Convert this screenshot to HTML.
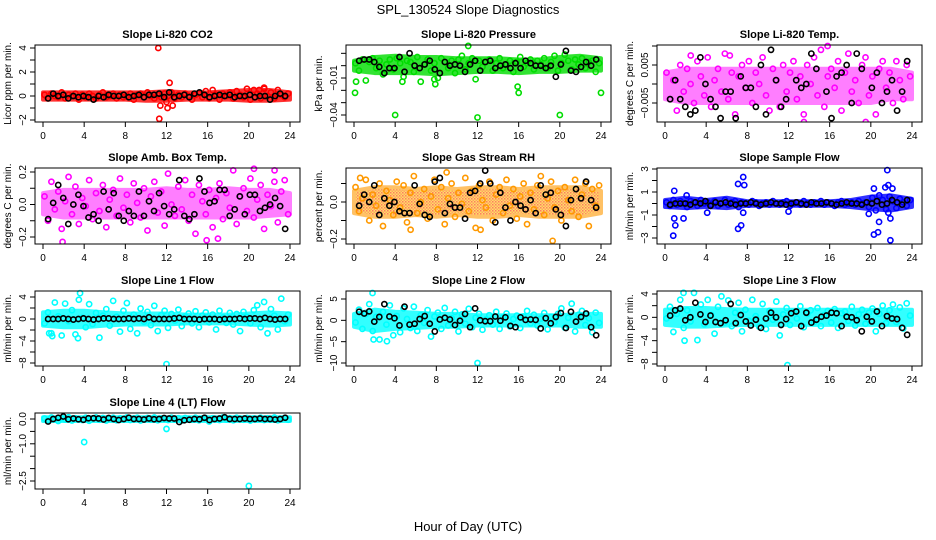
<!DOCTYPE html>
<html><head><meta charset="utf-8"><style>
html,body{margin:0;padding:0;background:#fff;}
svg{display:block;font-family:"Liberation Sans",sans-serif;}
</style></head><body>
<svg id="chart" width="936" height="540" viewBox="0 0 936 540" xmlns="http://www.w3.org/2000/svg">
<defs>
<pattern id="rhpat" width="3" height="3" patternUnits="userSpaceOnUse"><rect width="3" height="3" fill="#ffcc00"/><rect width="1.5" height="1.5" fill="#ff2000"/><rect x="1.5" y="1.5" width="1.5" height="1.5" fill="#ff6000"/></pattern>
</defs>
<text x="468" y="14" text-anchor="middle" font-size="13">SPL_130524  Slope Diagnostics</text>
<text x="468" y="531" text-anchor="middle" font-size="13">Hour of Day (UTC)</text>
</svg>
<script>
// ---- data ----
const co2Colored=[0.1,-0.2,0.2,0,-0.1,0.3,-0.2,0.1,0,0.2,-0.3,0.1,-0.1,0.2,0,-0.2,0.1,0.3,-0.1,0,0.2,-0.2,0.1,-0.1,0,0.2,-0.3,0.1,0.2,-0.1,0.3,0,-0.2,0.1,-0.1,0.2,0,0.3,-0.2,0.1,-0.1,0.2,0,-0.3,0.1,0.2,-0.1,0.4,-0.2,0.5,0.1,-0.3,0.2,0,0.3,-0.2,0.4,0.1,-0.1,0.6,-0.3,0.5,0.2,-0.2,0.7,0,0.3,-0.2,0.5,0.1,-0.1,0.2];
const co2BandLo=[-0.3,-0.3,-0.3,-0.3,-0.3,-0.4,-0.4,-0.3,-0.3,-0.3,-0.4,-0.4,-0.3];
const co2BandHi=[0.3,0.3,0.3,0.3,0.3,0.3,0.4,0.3,0.3,0.4,0.5,0.5,0.3];
const co2Means=[-0.2,0.2,0,0.1,-0.2,0,-0.1,0,-0.1,-0.3,0,-0.1,0.1,0,0,0.1,-0.1,0,0.1,-0.1,0.1,0.1,0.2,-0.1,0.3,-0.1,0,0.1,-0.1,0.2,0.3,0.1,-0.1,0,0.1,0,0.1,-0.1,0,0,0.1,-0.1,0,0,-0.3,0,0.2,0];
const co2OutHours=[11.2,11.3,12.3,11.4,12.6,12.1,12.0,21.5,21.0];
const co2OutVals=[4,-1.9,1.1,-0.8,-0.8,-1.0,-0.5,0.6,0.5];

const presColored=[0.002,-0.004,0.005,-0.012,0.003,0.006,-0.002,0.004,-0.007,0.001,0.005,-0.003,0.006,0.002,-0.009,0.004,0.003,-0.005,0.007,-0.013,0.001,0.005,-0.004,0.002,-0.01,0.006,0.003,-0.002,0.004,-0.006,0.005,0.008,-0.003,0.002,0.006,-0.011,0.004,-0.001,0.003,0.005,-0.004,0.002,0.006,-0.002,0.001,0.004,-0.005,0.003,0.007,-0.001,0.002,0.005,-0.003,0.004,0.001,0.006,-0.002,0.003,0.008,-0.004,0.002,0.009,0.004,-0.003,0.005,0.001,0.006,-0.002,0.003,0.004,-0.005,0.002];
const presBandLo=[-0.004,-0.006,-0.006,-0.006,-0.007,-0.006,-0.005,-0.005,-0.006,-0.005,-0.005,-0.004,-0.004];
const presBandHi=[0.004,0.007,0.008,0.007,0.007,0.006,0.006,0.006,0.005,0.005,0.007,0.008,0.006];
const presMeans=[0.004,0.005,0.005,0.003,-0.001,-0.006,-0.002,-0.002,0.007,-0.005,0.010,0.0,-0.002,0.001,0.004,-0.003,-0.006,0.003,0.000,0.001,0.000,-0.005,0.001,0.004,-0.004,0.003,0.004,-0.002,0.000,0.001,-0.002,0.002,-0.002,0.004,0.002,0.000,0.000,-0.002,0.0,-0.009,0.001,0.012,-0.004,-0.005,-0.001,0.003,0.000,0.005];
const presOutHours=[0.1,0.2,4.0,12.0,20.0,16.0,15.9,24.0,11.1,4.7,7.9,7.8];
const presOutVals=[-0.022,-0.013,-0.040,-0.042,-0.040,-0.022,-0.017,-0.022,0.016,-0.013,-0.015,-0.011];

const tempColored=[0.003,-0.004,0.001,-0.007,0.005,-0.002,0.004,0.000,-0.005,0.006,0.002,-0.003,0.007,-0.006,0.001,0.004,-0.002,0.008,-0.004,0.003,-0.008,0.002,0.005,-0.001,0.006,-0.005,0.003,0.000,0.007,-0.003,-0.007,0.004,0.001,-0.006,0.005,-0.002,0.003,0.006,-0.004,0.002,-0.008,0.005,0.000,0.007,-0.003,0.009,-0.006,0.002,0.004,-0.001,0.006,-0.007,0.003,0.008,-0.002,0.001,-0.005,0.005,0.007,-0.003,0.002,-0.008,0.004,0.006,-0.001,0.003,-0.005,0.006,0.001,-0.004,0.005,0.002];
const tempBandLo=[-0.004,-0.005,-0.005,-0.005,-0.005,-0.005,-0.005,-0.005,-0.005,-0.005,-0.005,-0.004,-0.004];
const tempBandHi=[0.003,0.004,0.004,0.004,0.004,0.004,0.004,0.004,0.004,0.004,0.004,0.004,0.003];
const tempMeans=[-0.004,0.001,-0.004,-0.006,-0.008,-0.007,0.007,0.000,-0.004,-0.006,-0.009,-0.002,-0.002,-0.009,0.002,-0.001,-0.001,-0.006,0.005,-0.008,0.009,0.001,-0.006,-0.004,-0.011,0.001,-0.001,0.000,0.008,0.004,-0.014,-0.002,-0.009,0.002,0.003,0.005,-0.005,0.008,0.004,-0.012,-0.001,0.003,-0.005,-0.002,0.001,-0.007,-0.002,0.006];
const tempOutHours=[15.8,19.5,13.5,6.3,2.5];
const tempOutVals=[0.010,-0.010,-0.010,0.0075,0.0075];

const ambColored=[0.05,-0.10,0.14,-0.03,0.08,-0.15,0.02,0.17,-0.06,0.11,-0.12,0.04,-0.01,0.15,-0.09,0.07,-0.04,0.12,-0.14,0.03,0.09,-0.07,0.16,-0.02,0.06,-0.11,0.13,0.01,-0.08,0.10,-0.16,0.05,0.14,-0.05,0.08,-0.13,0.19,0.00,-0.07,0.11,-0.03,0.15,-0.10,0.06,-0.18,0.12,0.02,-0.06,0.09,-0.14,0.04,0.13,-0.09,0.07,-0.02,0.21,-0.12,0.05,0.10,-0.04,0.16,-0.08,0.03,0.12,-0.15,0.06,-0.01,0.14,-0.11,0.08,0.15,-0.06];
const ambBandLo=[-0.06,-0.08,-0.08,-0.08,-0.08,-0.08,-0.08,-0.08,-0.08,-0.08,-0.08,-0.07,-0.06];
const ambBandHi=[0.07,0.09,0.09,0.09,0.09,0.09,0.10,0.09,0.09,0.10,0.09,0.09,0.07];
const ambMeans=[-0.09,0.01,0.12,0.04,-0.12,0.00,0.06,-0.01,-0.08,-0.06,-0.10,0.08,-0.03,0.07,-0.07,-0.10,-0.04,-0.07,0.08,-0.07,0.02,-0.04,0.07,-0.01,-0.06,-0.03,0.15,-0.07,-0.09,-0.06,0.16,0.08,0.01,0.02,0.09,0.09,-0.07,-0.03,0.05,-0.06,0.06,0.06,-0.04,-0.02,0.00,0.04,-0.01,-0.15];
const ambOutHours=[1.9,20.5,15.9,17.0,22.5];
const ambOutVals=[-0.23,0.22,-0.22,-0.21,0.21];

const rhColored=[0.08,-0.05,0.02,0.12,-0.10,0.04,-0.02,0.10,-0.13,0.06,0.01,-0.07,0.11,-0.03,0.09,-0.11,0.05,0.14,-0.06,0.00,0.07,-0.09,0.03,0.12,-0.04,0.08,-0.12,0.02,0.10,-0.08,0.05,-0.01,0.13,-0.05,0.06,-0.14,0.09,0.01,-0.03,0.11,-0.10,0.04,0.08,-0.06,0.12,-0.02,0.07,-0.09,0.03,0.10,-0.12,0.05,-0.04,0.09,0.14,-0.07,0.02,0.11,-0.03,0.06,-0.10,0.08,0.01,-0.05,0.12,-0.08,0.04,0.10,-0.13,0.07,-0.02,0.09];
const rhBandLo=[-0.06,-0.08,-0.08,-0.07,-0.08,-0.07,-0.08,-0.08,-0.07,-0.08,-0.08,-0.08,-0.06];
const rhBandHi=[0.06,0.08,0.08,0.07,0.08,0.07,0.08,0.08,0.07,0.08,0.08,0.08,0.06];
const rhMeans=[-0.02,0.04,0.00,0.09,-0.07,0.02,-0.02,0.00,-0.05,-0.06,-0.06,0.09,-0.01,-0.07,-0.08,0.11,0.13,-0.06,-0.01,-0.03,-0.03,-0.09,0.05,0.06,0.10,0.17,0.10,-0.11,0.05,-0.03,-0.10,0.00,-0.02,-0.04,0.01,-0.06,0.09,0.04,0.05,-0.04,-0.07,-0.13,0.01,0.07,0.02,0.11,0.01,-0.03];
const rhOutHours=[19.3,12.3,5.5,0.6,9.0];
const rhOutVals=[-0.21,-0.15,-0.15,0.13,0.16];

const flowColored=[0.1,-0.2,0.3,-0.1,0.2,0.0,-0.3,0.2,0.1,-0.2,0.3,0.0,0.1,-0.1,0.2,-0.2,0.0,0.3,-0.1,0.1,0.2,-0.3,0.1,0.0,-0.1,0.2,0.1,-0.2,0.0,0.1,-0.1,0.2,0.0,-0.1,0.1,0.2,-0.2,0.0,0.1,-0.1,0.2,0.0,-0.1,0.1,0.0,0.2,-0.1,0.1,0.0,-0.2,0.1,0.2,-0.1,0.0,0.1,-0.1,0.2,0.0,0.1,-0.3,0.5,-0.6,0.7,0.3,-0.5,0.6,0.2,-0.4,0.4,0.1,-0.2,0.3];
const flowBandLo=[-0.3,-0.4,-0.3,-0.4,-0.2,-0.2,-0.2,-0.2,-0.2,-0.3,-0.5,-0.6,-0.3];
const flowBandHi=[0.3,0.5,0.3,0.5,0.2,0.2,0.2,0.2,0.2,0.3,0.6,0.7,0.4];
const flowMeans=[-0.1,0,0,0,-0.1,0.1,0,0.2,-0.2,0.1,0,0.1,0,-0.1,0,0,0.1,0,-0.1,0,0.1,0,0,-0.1,0,0.1,0,-0.1,0.1,0,0,0.1,0,-0.1,0,0.1,0,0,-0.1,0.1,0,0.2,-0.1,0,0.3,0.1,-0.1,0.3];
const flowOutHours=[0.9,0.8,1.0,0.9,1.8,2.1,7.6,7.1,7.7,7.1,7.4,7.6,4.1,12.0,20.3,20.7,20.8,20.3,21.4,21.6,21.9,21.9,21.7,22.1,21.7,19.8];
const flowOutVals=[1.1,-2.8,-1.9,-1.3,-1.3,0.7,2.3,1.7,1.6,-2.2,-1.9,-0.8,-0.8,-0.7,-2.7,-2.5,-1.6,1.3,1.4,2.9,-3.2,-1.3,1.6,1.3,-0.8,-0.9];

const l1Colored=[-0.8,1.2,-2.6,3.0,0.5,-3.0,2.8,-0.4,1.6,-2.8,3.5,0.2,-1.5,2.7,-0.9,1.1,-3.4,0.6,1.8,-1.2,3.3,0.4,-2.3,1.5,2.9,-1.8,0.8,-2.6,1.9,-0.5,1.3,-1.1,2.4,-2.2,0.7,1.5,-1.6,0.9,-0.3,1.7,-1.3,0.5,1.0,-0.8,1.4,-1.5,0.6,1.2,-0.6,0.8,-1.9,1.5,0.3,-0.7,1.1,-1.0,0.9,-2.2,1.3,0.4,-0.8,1.6,2.5,-1.5,3.1,-2.6,1.8,0.6,-1.9,3.7,-0.4,0.8];
const l1BandLo=[-1.2,-1.5,-1.5,-1.2,-1.0,-1.0,-1.0,-0.8,-0.8,-0.8,-1.0,-1.2,-1.0];
const l1BandHi=[1.2,1.5,1.5,1.2,1.0,1.0,1.0,0.8,0.8,0.8,1.0,1.2,1.0];
const l1Means=[0,0,0,0.1,0,-0.1,0,0.1,0,-0.1,0,0.1,0.1,0,0,0,0.1,0,0.1,0,0.3,0,0,0,0,0.1,0.2,0,0,0,-0.1,0,0,0,-0.1,0,0,0,0.1,0,0.1,0.1,0,0.2,0,-0.1,0,0];
const l1OutHours=[3.6,12.0,3.4,0.6,0.9];
const l1OutVals=[4.7,-8.2,-3.5,-2.6,-3.1];

const l2Colored=[-0.5,2.5,-2.0,1.5,3.8,-2.5,0.8,-4.5,2.0,-1.0,3.5,-3.5,1.0,-2.8,2.8,0.3,-1.8,3.2,-2.5,1.2,-0.6,2.4,-3.8,0.9,1.8,-2.0,2.9,-1.2,0.5,2.0,-2.6,1.4,-0.8,2.7,-1.6,0.6,1.5,-2.2,0.2,1.2,-1.0,2.0,-2.0,0.7,1.6,-1.4,0.3,1.1,-1.8,0.9,2.2,-0.7,1.3,-1.2,0.4,1.7,-2.1,0.8,-0.4,1.5,2.8,-1.7,0.6,3.9,-2.6,1.3,2.2,-1.1,0.5,-2.8,1.8,-0.6];
const l2BandLo=[-1.5,-2.5,-2.0,-1.8,-1.5,-1.5,-1.2,-1.2,-1.2,-1.2,-1.2,-1.5,-1.5];
const l2BandHi=[1.5,2.5,2.0,1.8,1.5,1.5,1.2,1.2,1.2,1.2,1.2,1.5,1.5];
const l2Means=[2.0,1.6,2.1,-0.3,0.8,3.8,0.9,0.5,-1.2,3.2,-1.0,-0.8,0.3,1.0,-0.8,-2.6,0.2,0.6,0.2,-1.1,-0.1,1.5,-1.6,2.8,0.0,-0.2,-0.2,0.9,-0.1,0.7,-1.3,-1.6,0.7,0.1,0.2,0.1,-1.9,0.5,-0.7,0.8,1.7,-1.8,2.0,-0.3,0.8,1.6,-1.6,-3.5];
const l2OutHours=[1.8,12.0,3.2,1.9];
const l2OutVals=[6.4,-10.0,-4.9,-4.5];

const l3Colored=[-0.2,1.8,-2.5,0.6,3.0,-1.8,1.2,-0.7,4.2,-3.9,2.2,-1.2,3.0,0.4,-2.8,1.8,3.6,-0.9,2.9,-1.5,0.8,2.5,-2.4,1.3,-0.6,3.0,0.2,-1.6,2.3,-2.0,1.1,-0.4,2.7,-3.1,0.5,1.6,-1.3,0.9,-0.2,1.9,-1.7,0.6,1.2,-0.8,1.6,-1.5,0.4,1.1,-0.9,1.4,-1.8,0.7,1.0,-0.6,1.8,-1.4,0.5,1.3,-1.1,0.8,1.5,-2.4,0.6,2.0,-1.0,1.2,2.2,-0.8,1.7,-1.9,2.4,0.3];
const l3BandLo=[-1.3,-1.6,-1.6,-1.4,-1.3,-1.3,-1.3,-1.3,-1.3,-1.3,-1.3,-1.3,-1.3];
const l3BandHi=[1.3,1.6,1.6,1.4,1.3,1.3,1.3,1.3,1.3,1.3,1.3,1.3,1.3];
const l3Means=[0.3,1.2,1.5,-0.5,0.0,2.5,0.5,-0.8,0.3,-0.8,-1.0,-0.5,2.3,-1.0,0.4,-0.7,-1.4,-0.4,-1.8,-0.2,0.8,0.0,-1.3,-0.3,0.7,1.0,-1.5,0.8,-0.9,-0.4,0.1,0.3,0.8,0.7,-1.5,0.1,0.0,-0.5,-2.4,0.1,-0.7,1.0,-1.5,0.2,-0.2,-0.3,-1.8,-3.0];
const l3OutHours=[1.8,11.9,1.9];
const l3OutVals=[4.2,-8.2,-4.0];

const l4Colored=[0.02,-0.05,0.06,0.0,-0.08,0.04,-0.02,0.07,-0.06,0.03,0.0,-0.04,0.05,-0.07,0.02,0.06,-0.03,0.04,-0.06,0.01,0.05,-0.05,0.03,-0.02,0.06,-0.04,0.02,0.05,-0.06,0.0,0.04,-0.03,0.06,-0.05,0.02,0.0,-0.04,0.05,-0.02,0.03,-0.06,0.04,0.01,-0.03,0.05,-0.05,0.02,0.04,-0.1,0.03,0.0,-0.04,0.06,-0.02,0.03,-0.05,0.05,0.01,-0.03,0.04,-0.06,0.02,0.0,0.05,-0.04,0.03,-0.02,0.06,-0.05,0.01,0.04,-0.03];
const l4BandLo=[-0.08,-0.08,-0.08,-0.08,-0.08,-0.08,-0.08,-0.08,-0.08,-0.08,-0.08,-0.08,-0.08];
const l4BandHi=[0.07,0.07,0.07,0.07,0.07,0.07,0.07,0.07,0.07,0.07,0.07,0.07,0.07];
const l4Means=[-0.1,0.0,0.05,0.1,-0.01,0.02,-0.01,-0.03,0.03,0.03,0.02,-0.02,0.04,0.00,-0.04,0.0,0.05,0.0,0.0,-0.02,0.02,-0.01,0.0,0.04,0.02,0.02,-0.12,-0.05,-0.03,0.0,-0.01,0.05,-0.04,0.0,0.02,0.07,0.0,0.0,0.0,0.02,0.0,0.0,0.02,0.0,0.0,-0.02,0.0,0.05];
const l4OutHours=[4.0,12.0,20.0];
const l4OutVals=[-0.93,-0.4,-2.7];

const xTickLabels=[0,4,8,12,16,20,24];

// ---- drawing ----
const NS='http://www.w3.org/2000/svg';
const svg=document.getElementById('chart');
function mk(tag,attrs,parent){const e=document.createElementNS(NS,tag);for(const k in attrs)e.setAttribute(k,attrs[k]);(parent||svg).appendChild(e);return e;}

const panels=[
 {name:'co2',title:'Slope Li-820 CO2',ylab:'Licor ppm per min.',col:0,row:0,color:'#ff0000',fill:'#ff0000',op:0.8,v1:4,p1:48,v2:-2,p2:120,ticks:[-2,-1,0,1,2,3,4],labels:[-2,0,2,4],c:co2Colored,lo:co2BandLo,hi:co2BandHi,m:co2Means,oh:co2OutHours,ov:co2OutVals},
 {name:'pressure',title:'Slope Li-820 Pressure',ylab:'kPa per min.',col:1,row:0,color:'#00dd00',fill:'#00dd00',op:0.8,v1:-0.01,p1:78,v2:-0.04,p2:115,ticks:[0.01,0,-0.01,-0.02,-0.03,-0.04],labels:[-0.01,-0.04],c:presColored,lo:presBandLo,hi:presBandHi,m:presMeans,oh:presOutHours,ov:presOutVals},
 {name:'temp',title:'Slope Li-820 Temp.',ylab:'degrees C per min.',col:2,row:0,color:'#ff00ff',fill:'#ff00ff',op:0.5,v1:0.005,p1:65,v2:-0.005,p2:103,ticks:[0.01,0.005,0,-0.005],labels:[0.005,-0.005],c:tempColored,lo:tempBandLo,hi:tempBandHi,m:tempMeans,oh:tempOutHours,ov:tempOutVals},
 {name:'amb-temp',title:'Slope Amb. Box Temp.',ylab:'degrees C per min.',col:0,row:1,color:'#ff00ff',fill:'#ff00ff',op:0.5,v1:0.2,p1:172,v2:-0.2,p2:237,ticks:[0.2,0.1,0,-0.1,-0.2],labels:['0.2','0.0','-0.2'],c:ambColored,lo:ambBandLo,hi:ambBandHi,m:ambMeans,oh:ambOutHours,ov:ambOutVals},
 {name:'rh',title:'Slope Gas Stream RH',ylab:'percent per min.',col:1,row:1,color:'#ff9900',fill:'url(#rhpat)',op:0.6,v1:0,p1:202,v2:-0.2,p2:239,ticks:[0.1,0,-0.1,-0.2],labels:['0.0','-0.2'],c:rhColored,lo:rhBandLo,hi:rhBandHi,m:rhMeans,oh:rhOutHours,ov:rhOutVals},
 {name:'sample-flow',title:'Slope Sample Flow',ylab:'ml/min per min.',col:2,row:1,color:'#0000ff',fill:'#0000ff',op:0.8,v1:1,p1:192,v2:-1,p2:215,ticks:[3,2,1,0,-1,-2,-3],labels:[3,1,-1,-3],c:flowColored,lo:flowBandLo,hi:flowBandHi,m:flowMeans,oh:flowOutHours,ov:flowOutVals},
 {name:'line1-flow',title:'Slope Line 1 Flow',ylab:'ml/min per min.',col:0,row:2,color:'#00ffff',fill:'#00ffff',op:0.8,v1:4,p1:297,v2:-8,p2:363,ticks:[4,2,0,-2,-4,-6,-8],labels:[4,0,-4,-8],c:l1Colored,lo:l1BandLo,hi:l1BandHi,m:l1Means,oh:l1OutHours,ov:l1OutVals},
 {name:'line2-flow',title:'Slope Line 2 Flow',ylab:'ml/min per min.',col:1,row:2,color:'#00ffff',fill:'#00ffff',op:0.8,v1:5,p1:299,v2:-10,p2:363,ticks:[5,0,-5,-10],labels:[5,0,-5,-10],c:l2Colored,lo:l2BandLo,hi:l2BandHi,m:l2Means,oh:l2OutHours,ov:l2OutVals},
 {name:'line3-flow',title:'Slope Line 3 Flow',ylab:'ml/min per min.',col:2,row:2,color:'#00ffff',fill:'#00ffff',op:0.8,v1:4,p1:294,v2:-8,p2:364,ticks:[4,2,0,-2,-4,-6,-8],labels:[4,0,-4,-8],c:l3Colored,lo:l3BandLo,hi:l3BandHi,m:l3Means,oh:l3OutHours,ov:l3OutVals},
 {name:'line4-flow',title:'Slope Line 4 (LT) Flow',ylab:'ml/min per min.',col:0,row:3,color:'#00ffff',fill:'#00ffff',op:0.8,v1:0,p1:419,v2:-2.5,p2:481,ticks:[0,-0.5,-1,-1.5,-2,-2.5],labels:['0.0','-1.0','-2.5'],c:l4Colored,lo:l4BandLo,hi:l4BandHi,m:l4Means,oh:l4OutHours,ov:l4OutVals}
];
const rowTop=[45,168,291,413], rowBot=[122,244,366,489];

panels.forEach(P=>{
  const bx0=35+311*P.col, bx1=300+311*P.col, by0=rowTop[P.row], by1=rowBot[P.row];
  const xs=h=>bx0+8+(h/24)*247;
  const ys=v=>P.p1+(v-P.v1)*(P.p2-P.p1)/(P.v2-P.v1);
  const g=mk('g',{});
  
  
  const clip=mk('clipPath',{id:'clip-'+P.name},g);
  mk('rect',{x:bx0,y:by0-4,width:bx1-bx0,height:by1-by0+4},clip);
  const plot=mk('g',{'clip-path':'url(#clip-'+P.name+')'},g);
  let pts=[];
  P.hi.forEach((v,i)=>pts.push(xs(i*2)+','+ys(v)));
  for(let i=P.lo.length-1;i>=0;i--)pts.push(xs(i*2)+','+ys(P.lo[i]));
  const band=mk('polygon',{points:pts.join(' '),fill:P.fill,stroke:P.color,'stroke-width':4,'stroke-linejoin':'round',opacity:P.op},plot);
  
  
  P.c.forEach((v,i)=>{
    const c=mk('circle',{cx:xs(0.15+i/3),cy:ys(v),r:2.6,fill:'none',stroke:P.color,'stroke-width':1.6},plot);
    
    
  });
  P.oh.forEach((h,i)=>{
    const c=mk('circle',{cx:xs(h),cy:ys(P.ov[i]),r:2.6,fill:'none',stroke:P.color,'stroke-width':1.6},plot);
    
    
  });
  P.m.forEach((v,i)=>{
    const c=mk('circle',{cx:xs(0.5+i*0.49),cy:ys(v),r:2.6,fill:'none',stroke:'#000','stroke-width':1.6},plot);
    
    
  });
  const box=mk('rect',{x:bx0,y:by0,width:bx1-bx0,height:by1-by0,fill:'none',stroke:'#000','stroke-width':1},g);
  
  
  xTickLabels.forEach(h=>{
    mk('line',{x1:xs(h),x2:xs(h),y1:by1,y2:by1+5,stroke:'#000'},g);
    const t=mk('text',{x:xs(h),y:by1+17,'text-anchor':'middle','font-size':10},g);
    t.textContent=h;
    
    
  });
  mk('line',{x1:xs(0),x2:xs(24),y1:by1,y2:by1,stroke:'#000'},g);
  P.ticks.forEach(v=>{ mk('line',{x1:bx0-5,x2:bx0,y1:ys(v),y2:ys(v),stroke:'#000'},g); });
  P.labels.forEach(v=>{
    const y=ys(Number(v));
    const t=mk('text',{x:bx0-9,y:y,'text-anchor':'middle','font-size':10,transform:'rotate(-90 '+(bx0-9)+' '+y+')'},g);
    t.textContent=String(v).replace('-','\u2212');
    
    
  });
  const ym=(by0+by1)/2, yx=bx0-24;
  const yl=mk('text',{x:yx,y:ym,'text-anchor':'middle','font-size':10,transform:'rotate(-90 '+yx+' '+ym+')'},g);
  yl.textContent=P.ylab;
  
  
  const tt=mk('text',{x:(bx0+bx1)/2,y:by0-7,'text-anchor':'middle','font-size':11,'font-weight':'bold'},g);
  tt.textContent=P.title;
  
  
});
</script>
</body></html>
